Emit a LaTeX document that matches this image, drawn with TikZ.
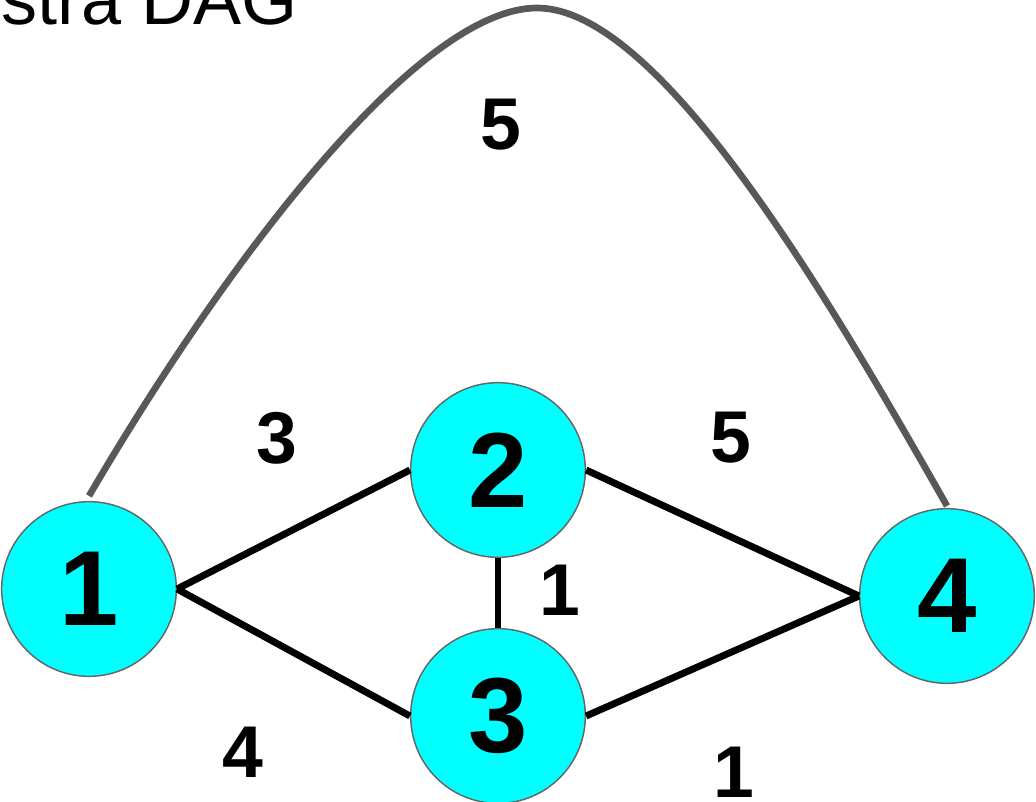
\documentclass[tikz,border=0pt]{standalone}
\usepackage{fontspec}
\setmainfont{Liberation Sans}
\usetikzlibrary{calc}
\definecolor{nodecyan}{RGB}{0,255,255}
\definecolor{arcgrey}{RGB}{88,88,88}
\begin{document}
\begin{tikzpicture}[x=0.75pt,y=-0.75pt,
  vertex/.style={circle,draw=black!60,line width=1.1pt,fill=nodecyan,minimum size=131pt,inner sep=0pt,font=\fontsize{80}{80}\selectfont\bfseries},
  edge/.style={line width=5.2pt,black},
  arc/.style={line width=5pt,arcgrey},
  weight/.style={font=\fontsize{55}{55}\selectfont\bfseries}]
\useasboundingbox (0,0) rectangle (1036,802);
\clip (0,0) rectangle (1036,802);
% title
\node[anchor=base east,font=\fontsize{54}{54}\selectfont,inner sep=0pt] (title) at (298,25) {stra DAG};
% vertices
\node[vertex] (n1) at (89,589) {1};
\node[vertex] (n2) at (498,470) {2};
\node[vertex] (n3) at (498,716) {3};
\node[vertex] (n4) at (947,596) {4};
% edges
\draw[edge] (n1.east) -- (n2.west);
\draw[edge] (n1.east) -- (n3.west);
\draw[edge] (n2.south) -- (n3.north);
\draw[edge] (n2.east) -- (n4.west);
\draw[edge] (n3.east) -- (n4.west);
\draw[arc] ($(n1.north)+(0,-5)$) .. controls (230,255) and (420,8) .. (537,8)
  .. controls (660,8) and (830,300) .. ($(n4.north)+(0,-2)$);
% weights
\node[weight] (w12) at (277,438) {3};
\node[weight] (w14) at (501,125) {5};
\node[weight] (w24) at (731,438) {5};
\node[weight] (w23) at (560,590) {1};
\node[weight] (w13) at (243,752) {4};
\node[weight] (w34) at (734,772) {1};
\end{tikzpicture}
\end{document}
